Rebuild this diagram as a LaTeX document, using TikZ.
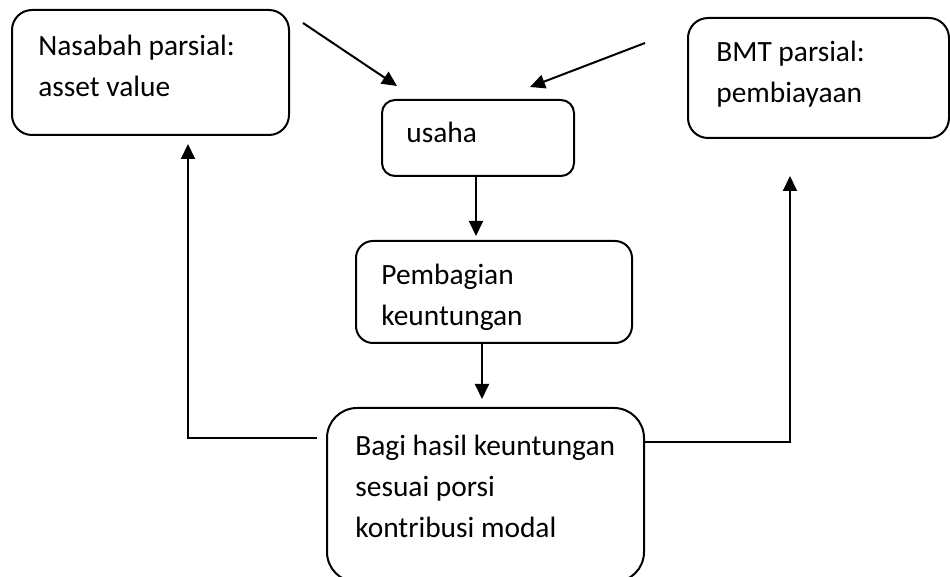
\documentclass[tikz,border=0pt]{standalone}
\usepackage{fontspec}
\setmainfont{Carlito}
\usetikzlibrary{arrows.meta}

\begin{document}
\begin{tikzpicture}[x=0.5pt, y=-0.5pt,
        box/.style={draw, line width=1pt, inner sep=0pt},
        txt/.style={anchor=base west, align=left, inner sep=0pt, font=\fontsize{14.7}{20.7}\selectfont},
        arr/.style={-{Triangle[length=7.5pt, width=7pt]}, line width=1pt}]
        \clip (0, 0) rectangle (950, 577);
        \node[box, rounded corners=10pt, minimum width=138.5pt, minimum height=62.5pt] (nasabah) at (150.5, 72.5) {};
        \node[box, rounded corners=6.5pt, minimum width=96pt, minimum height=38pt] (usaha) at (478, 138) {};
        \node[box, rounded corners=10pt, minimum width=130.5pt, minimum height=60pt] (bmt) at (818.5, 78) {};
        \node[box, rounded corners=8.5pt, minimum width=138pt, minimum height=51pt] (pembagian) at (494, 292) {};
        \node[box, rounded corners=15pt, minimum width=158.5pt, minimum height=87pt] (bagi) at (485.5, 495) {};
        % base anchor sits on the last line
        \node[txt] (nasabahtxt) at (38, 97) {Nasabah parsial:\\asset value};
        \node[txt] (usahatxt) at (406, 143) {usaha};
        \node[txt] (bmttxt) at (716, 103) {BMT parsial:\\pembiayaan};
        \node[txt] (pembagiantxt) at (381, 326) {Pembagian\\keuntungan};
        \node[txt] (bagitxt) at (355, 538) {Bagi hasil keuntungan\\sesuai porsi\\kontribusi modal};
        \coordinate (nasabahin) at (303, 23);
        \coordinate (usahaleft) at (397, 86);
        \coordinate (bmtin) at (645, 43);
        \coordinate (usaharight) at (530, 87);
        \coordinate (lcorner) at (188, 438);
        \coordinate (rcorner) at (790, 442);
        \draw[arr] (nasabahin) -- (usahaleft);
        \draw[arr] (bmtin) -- (usaharight);
        \draw[arr, shorten >=2pt] ([xshift=-1pt]usaha.south) -- ([xshift=-1pt]usaha.south |- pembagian.north);
        \draw[arr, shorten >=4pt] ([xshift=-6pt]pembagian.south) -- ([xshift=-6pt]pembagian.south |- bagi.north);
        \draw[arr, shorten <=4.5pt, shorten >=4pt] (bagi.west |- lcorner) -- (lcorner) -- (lcorner |- nasabah.south);
        \draw[arr, shorten >=18.5pt] (bagi.east |- rcorner) -- (rcorner) -- (rcorner |- bmt.south);
\end{tikzpicture}
\end{document}
